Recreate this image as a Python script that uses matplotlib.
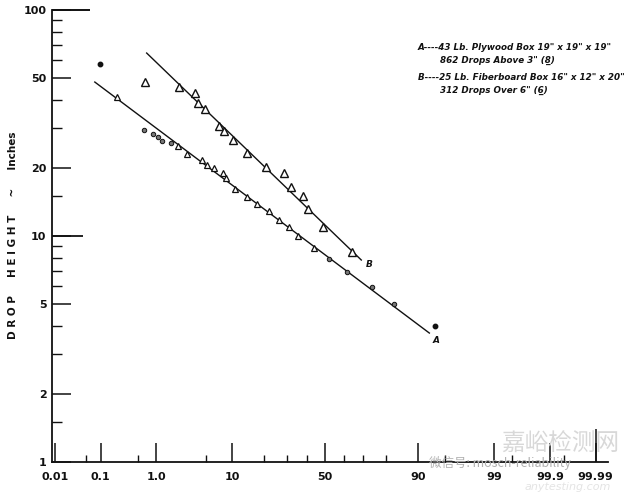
import math
from statistics import NormalDist
import numpy as np
import matplotlib
matplotlib.use("Agg")
import matplotlib.pyplot as plt

# ---------------- data (cumulative percent, drop height in inches) ----------------
# Box B (upper line): 25 Lb fiberboard box
B_p = [0.65, 2.2, 3.65, 4.0, 4.9, 7.2, 8.2, 10.2, 14.1, 20.8, 28.6, 32.0, 38.1, 40.7, 48.9, 64.5]
B_h = [48.0, 45.6, 42.9, 38.8, 36.5, 30.7, 29.2, 26.6, 23.3, 20.2, 19.0, 16.5, 15.0, 13.2, 11.0, 8.5]
B_fit_p = [0.70, 69.0]
B_fit_h = [64.5, 7.83]

# Box A (lower line): 43 Lb plywood box
A_tri_p = [0.21, 2.13, 2.85, 4.5, 5.2, 6.3, 8.0, 8.6, 10.7, 14.1, 17.4, 22.0, 26.3, 31.0, 35.5, 44.0]
A_tri_h = [41.2, 25.0, 23.1, 21.7, 20.6, 20.0, 19.0, 18.1, 16.1, 14.9, 13.9, 12.9, 11.8, 11.0, 10.0, 8.85]
A_circ_p = [0.63, 0.88, 1.06, 1.23, 1.68, 52.2, 61.9, 74.2, 82.9]
A_circ_h = [29.4, 28.3, 27.4, 26.3, 25.8, 7.91, 6.93, 5.95, 5.0]
A_dot_p = [0.096, 93.4]
A_dot_h = [57.7, 4.0]
A_fit_p = [0.076, 92.4]
A_fit_h = [48.0, 3.72]

x_major = [0.01, 0.1, 1.0, 10, 50, 90, 99, 99.9, 99.99]
x_labels = ["0.01", "0.1", "1.0", "10", "50", "90", "99", "99.9", "99.99"]
x_minor = [0.05, 0.5, 5, 20, 30, 40, 60, 70, 80, 95, 99.5, 99.95]
y_major = [1, 2, 5, 10, 20, 50, 100]
y_labels = ["1", "2", "5", "10", "20", "50", "100"]
y_minor = [1.5, 3, 4, 6, 7, 8, 9, 15, 30, 40, 60, 70, 80, 90]

legend_lines = [
    'A----43 Lb. Plywood Box 19" x 19" x 19"',
    '862 Drops Above 3" (8\u0332)',
    'B----25 Lb. Fiberboard Box 16" x 12" x 20"',
    '312 Drops Over 6" (6\u0332)',
]

# ---------------- normal probability scale ----------------
_nd = NormalDist()
_ppf = np.vectorize(lambda q: _nd.inv_cdf(min(max(q, 1e-12), 1 - 1e-12)))
_erf = np.vectorize(math.erf)


def fwd(p):
    p = np.asarray(p, dtype=float)
    return _ppf(p / 100.0)


def inv(z):
    z = np.asarray(z, dtype=float)
    return 50.0 * (1.0 + _erf(z / math.sqrt(2.0)))


plt.rcParams['font.family'] = ['DejaVu Sans']
fig = plt.figure(figsize=(6.4, 4.92), dpi=100)
W, H = 640, 492
ax = fig.add_axes([52 / W, 30 / H, (608 - 52) / W, (462 - 10) / H])
ax.set_xscale('function', functions=(fwd, inv))
ax.set_yscale('log')
ax.set_xlim(0.0085, 99.995)
ax.set_ylim(1, 100)

ink = '#111111'
# fitted lines
ax.plot(B_fit_p, B_fit_h, color=ink, lw=1.0)
ax.plot(A_fit_p, A_fit_h, color=ink, lw=1.0)
# data markers
ax.plot(B_p, B_h, linestyle='none', marker='^', ms=5.5, mfc='white', mec=ink, mew=1.0)
ax.plot(A_tri_p, A_tri_h, linestyle='none', marker='^', ms=4.0, mfc='white', mec=ink, mew=0.9)
ax.plot(A_circ_p, A_circ_h, linestyle='none', marker='o', ms=3.2, mfc='#777777', mec=ink, mew=0.7)
ax.plot(A_dot_p, A_dot_h, linestyle='none', marker='o', ms=3.2, mfc=ink, mec=ink)

# end labels
ax.annotate('A', (A_fit_p[-1], A_fit_h[-1]), xytext=(2, -5), textcoords='offset points',
            fontsize=6.5, fontstyle='italic', fontweight='bold', color=ink, ha='left', va='center')
ax.annotate('B', (B_fit_p[-1], B_fit_h[-1]), xytext=(3, -3), textcoords='offset points',
            fontsize=6.5, fontstyle='italic', fontweight='bold', color=ink, ha='left', va='center')

# axes styling
for s in ['top', 'right']:
    ax.spines[s].set_visible(False)
for s in ['left', 'bottom']:
    ax.spines[s].set_linewidth(1.3)
    ax.spines[s].set_color(ink)

ax.set_xticks(x_major)
ax.set_xticklabels(x_labels)
ax.set_xticks(x_minor, minor=True)
ax.set_yticks(y_major)
ax.set_yticklabels(y_labels)
ax.set_yticks(y_minor, minor=True)
ax.yaxis.set_minor_formatter(matplotlib.ticker.NullFormatter())
ax.xaxis.set_minor_formatter(matplotlib.ticker.NullFormatter())
ax.tick_params(axis='both', which='major', direction='in', length=14, width=1.1, color=ink)
ax.tick_params(axis='y', which='minor', direction='in', length=7, width=1.0, color=ink)
ax.tick_params(axis='x', which='minor', direction='in', length=5, width=1.0, color=ink)
ax.tick_params(axis='y', which='major', pad=4, labelsize=8)
ax.tick_params(axis='x', which='major', pad=7, labelsize=8)
for lab in ax.get_xticklabels() + ax.get_yticklabels():
    lab.set_fontweight('bold')
    lab.set_color(ink)

# longer tick marks at 10 and 100
ax.hlines([100], 0, 38 / 556, transform=ax.get_yaxis_transform(), color=ink, lw=1.4, clip_on=False)
ax.hlines([10], 0, 31 / 556, transform=ax.get_yaxis_transform(), color=ink, lw=1.3, clip_on=False)
ax.vlines([99.99], 0, 33 / 452, transform=ax.get_xaxis_transform(), color=ink, lw=1.1, clip_on=False)

# y label
fig.text(13 / W, 1 - 235 / H, 'D R O P     H E I G H T     ~     Inches', rotation=90,
         ha='center', va='center', fontsize=7.5, fontweight='bold', color=ink)

# legend text
ys = [48, 60, 77, 90]
xs = [418, 440, 418, 440]
for t, xx, yy in zip(legend_lines, xs, ys):
    fig.text(xx / W, 1 - yy / H, t, ha='left', va='center', fontsize=6.3,
             fontstyle='italic', fontweight='bold', color=ink)

# watermark
fig.text(560 / W, 1 - 444 / H, '嘉峪检测网', ha='center', va='center', fontsize=17,
         color='#d8d8d8', family=['Noto Sans CJK SC', 'DejaVu Sans'], zorder=0)
fig.text(500 / W, 1 - 463 / H, '微信号: mosch-reliability', ha='center', va='center', fontsize=9,
         color='#b0b0b0', family=['Noto Sans CJK SC', 'DejaVu Sans'])
fig.text(568 / W, 1 - 487 / H, 'anytesting.com', ha='center', va='center', fontsize=8,
         color='#e4e4e4', fontstyle='italic')

fig.savefig('out.png', dpi=100, facecolor='white')
